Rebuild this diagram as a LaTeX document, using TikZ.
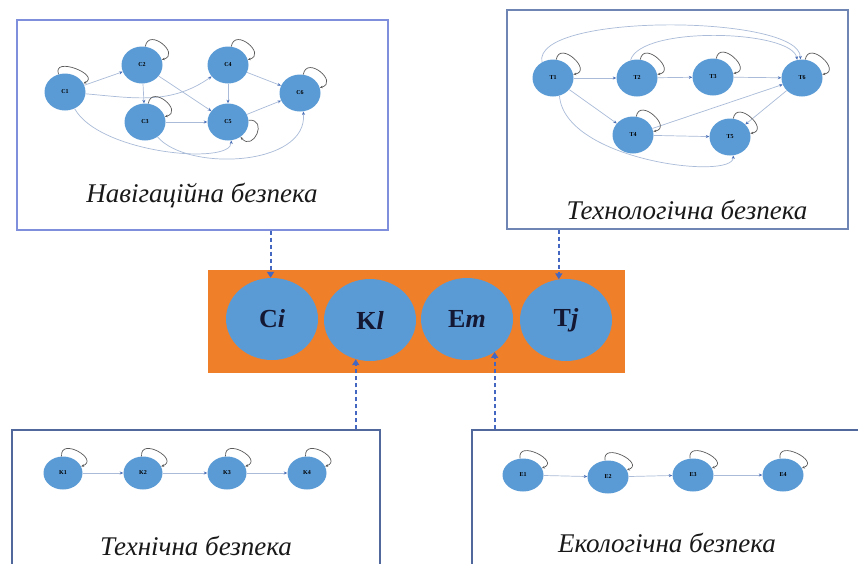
\documentclass[tikz,border=0pt]{standalone}
\usepackage{fontspec}
\setmainfont{Liberation Serif}
\usetikzlibrary{arrows.meta,shapes.geometric}
\definecolor{nodeblue}{HTML}{5B9BD5}
\definecolor{bandorange}{HTML}{F07F2A}
\definecolor{edgegrey}{HTML}{A9BBD8}
\definecolor{tipblue}{HTML}{4A70B8}
\definecolor{loopgrey}{HTML}{5A5A5A}
\definecolor{dashblue}{HTML}{4467C2}
\definecolor{navline}{HTML}{7F8FDB}
\definecolor{techline}{HTML}{6F86B5}
\definecolor{lowline}{HTML}{50689C}
\definecolor{inkblue}{HTML}{141833}
\begin{document}
\begin{tikzpicture}[x=1pt,y=1pt,
  panel/.style={draw=#1, line width=1.4pt, fill=white, inner sep=0pt},
  stnode/.style={ellipse, fill=nodeblue, minimum width=41pt, minimum height=37pt,
    inner sep=0pt, font=\fontsize{6}{6}\selectfont\bfseries, text=black},
  lownode/.style={stnode, minimum width=39pt, minimum height=33pt},
  bignode/.style={ellipse, fill=nodeblue, minimum width=92pt, minimum height=82pt,
    inner sep=0pt, font=\fontsize{26}{26}\selectfont\bfseries, text=inkblue},
  gedge/.style={draw=edgegrey, line width=0.7pt,
    -{Stealth[length=3.5pt,width=3pt,color=tipblue]}},
  gloop/.style={draw=loopgrey, line width=0.7pt, min distance=20pt,
    -{Stealth[length=3pt,width=2.5pt]}},
  linkarrow/.style={draw=dashblue, line width=2pt, dash pattern=on 4pt off 3pt,
    -{Triangle[length=6pt,width=7pt]}},
  caption/.style={font=\fontsize{27}{27}\selectfont\itshape, text=black!90}
]
\useasboundingbox (0,0) rectangle (858,-563);
\clip (0,0) rectangle (858,-563);
\fill[white] (0,0) rectangle (858,-563);

% four framed panels
\node[panel=navline, minimum width=371pt, minimum height=210pt] (navpanel) at (202.5,-125) {};
\node[panel=techline, minimum width=341pt, minimum height=219pt] (techpanel) at (677.5,-119.5) {};
\node[panel=lowline, minimum width=368pt, minimum height=170pt] (kpanel) at (196,-515) {};
\node[panel=lowline, minimum width=390pt, minimum height=170pt] (epanel) at (667,-515) {};

% captions
\node[caption] (navcap) at (202,-196) {Навігаційна безпека};
\node[caption] (techcap) at (687,-210) {Технологічна безпека};
\node[caption] (kcap) at (196,-546) {Технічна безпека};
\node[caption] (ecap) at (667,-543) {Екологічна безпека};

% orange band with the four states
\node[fill=bandorange, minimum width=417pt, minimum height=103pt, inner sep=0pt] (band) at (416.5,-321.5) {};
\node[bignode] (Ci) at (272,-319) {C\textit{i}};
\node[bignode] (Kl) at (370,-320) {K\textit{l}};
\node[bignode] (Em) at (467,-319) {E\textit{m}};
\node[bignode] (Tj) at (566,-320) {T\textit{j}};

% navigation graph
\node[stnode] (C1) at (65,-92) {C1};
\node[stnode] (C2) at (142,-65) {C2};
\node[stnode] (C3) at (145,-122) {C3};
\node[stnode] (C4) at (228,-65) {C4};
\node[stnode] (C5) at (228,-122) {C5};
\node[stnode] (C6) at (300,-93) {C6};
\draw[gedge] (C1) -- (C2);
\draw[gedge] (C2) -- (C3);
\draw[gedge] (C2) -- (C5);
\draw[gedge] (C3) -- (C5);
\draw[gedge] (C4) -- (C5);
\draw[gedge] (C4) -- (C6);
\draw[gedge] (C5) -- (C6);
\draw[gedge] (C1) to[out=-5,in=215] (C4);
\draw[gedge] (C1.-60) .. controls +(25,-45) and +(0,-25) .. (C5.-80);
\draw[gedge] (C3.-50) .. controls +(30,-35) and +(5,-55) .. (C6.-80);
\draw[gloop] (C1) to[out=110,in=25] (C1);
\draw[gloop] (C2) to[out=80,in=15] (C2);
\draw[gloop] (C3) to[out=80,in=15] (C3);
\draw[gloop] (C4) to[out=80,in=15] (C4);
\draw[gloop] (C5) to[out=5,in=-50] (C5);
\draw[gloop] (C6) to[out=80,in=15] (C6);

% technological graph
\node[stnode] (T1) at (553,-78) {T1};
\node[stnode] (T2) at (637,-78) {T2};
\node[stnode] (T3) at (713,-77) {T3};
\node[stnode] (T6) at (802,-78) {T6};
\node[stnode] (T4) at (633,-135) {T4};
\node[stnode] (T5) at (730,-137) {T5};
\draw[gedge] (T1) -- (T2);
\draw[gedge] (T2) -- (T3);
\draw[gedge] (T3) -- (T6);
\draw[gedge] (T1) -- (T4);
\draw[gedge] (T4) -- (T5);
\draw[gedge] (T4) -- (T6);
\draw[gedge] (T6) -- (T5);
\draw[gedge] (T1.125) .. controls +(-10,50) and +(0,45) .. (T6.95);
\draw[gedge] (T2.110) .. controls +(10,35) and +(-5,30) .. (T6.105);
\draw[gedge] (T1.-70) .. controls +(5,-65) and +(0,-25) .. (T5.-80);
\draw[gloop] (T1) to[out=80,in=10] (T1);
\draw[gloop] (T2) to[out=80,in=10] (T2);
\draw[gloop] (T3) to[out=80,in=10] (T3);
\draw[gloop] (T4) to[out=80,in=10] (T4);
\draw[gloop] (T5) to[out=80,in=10] (T5);
\draw[gloop] (T6) to[out=80,in=10] (T6);

% technical chain
\node[lownode] (K1) at (63,-473) {K1};
\node[lownode] (K2) at (143,-473) {K2};
\node[lownode] (K3) at (227,-473) {K3};
\node[lownode] (K4) at (307,-473) {K4};
\draw[gedge] (K1) -- (K2);
\draw[gedge] (K2) -- (K3);
\draw[gedge] (K3) -- (K4);
\foreach \k in {K1,K2,K3,K4}
  \draw[gloop] (\k) to[out=95,in=20] (\k);

% ecological chain
\node[lownode, minimum width=41pt] (E1) at (523,-475) {E1};
\node[lownode, minimum width=41pt] (E2) at (608,-477) {E2};
\node[lownode, minimum width=41pt] (E3) at (693,-475) {E3};
\node[lownode, minimum width=41pt] (E4) at (783,-475) {E4};
\draw[gedge] (E1) -- (E2);
\draw[gedge] (E2) -- (E3);
\draw[gedge] (E3) -- (E4);
\foreach \e in {E1,E2,E3,E4}
  \draw[gloop] (\e) to[out=100,in=20] (\e);

% dashed links between panels and states
\draw[linkarrow] (Ci.92 |- navpanel.south) -- (Ci.92);
\draw[linkarrow] (Tj.100 |- techpanel.south) -- (Tj.100);
\draw[linkarrow] (Kl.250 |- kpanel.north) -- (Kl.250);
\draw[linkarrow] (Em.310 |- epanel.north) -- (Em.310);
\end{tikzpicture}
\end{document}
